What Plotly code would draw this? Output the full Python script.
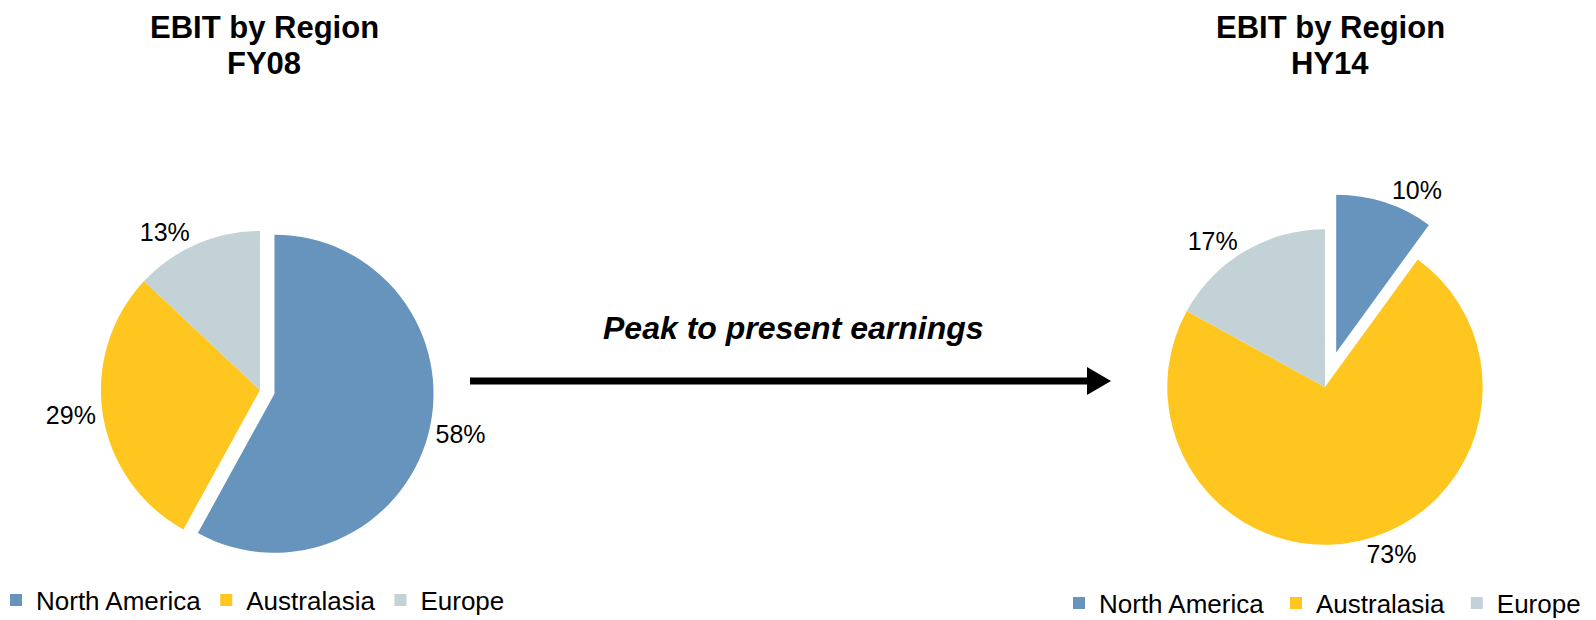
import plotly.graph_objects as go

regions = ["North America", "Australasia", "Europe"]
colors = ["#6794BD", "#FEC61E", "#C3D2D6"]
fy08_values = [58, 29, 13]
hy14_values = [10, 73, 17]
fy08_pull = [0.094, 0, 0]
hy14_pull = [0.23, 0, 0]
title_line1 = "EBIT by Region"
period_labels = ["FY08", "HY14"]
arrow_text = "Peak to present earnings"

# page has an 8px body margin; size the figure to fill the rest of the window
OFF = 8
W, H = 1596 - OFF, 620 - OFF
FONT = "Liberation Sans, Arial, sans-serif"

def px_x(x):
    return (x - OFF) / W

def px_y(y):
    return 1 - (y - OFF) / H

fig = go.Figure()

fig.add_trace(go.Pie(
    labels=regions, values=fy08_values, pull=fy08_pull,
    marker=dict(colors=colors, line=dict(width=0)),
    sort=False, direction="clockwise", rotation=0,
    textinfo="percent", texttemplate="%{percent:.0%}",
    textposition="outside", textfont=dict(size=25, color="#000000", family=FONT),
    domain=dict(x=[px_x(86), px_x(434)], y=[px_y(564), px_y(216)]),
    legend="legend", showlegend=True, hoverinfo="label+percent",
))

# trailing space keeps the second pie's legend entries distinct from the first's
fig.add_trace(go.Pie(
    labels=[r + " " for r in regions], values=hy14_values, pull=hy14_pull,
    marker=dict(colors=colors, line=dict(width=0)),
    sort=False, direction="clockwise", rotation=0,
    textinfo="percent", texttemplate="%{percent:.0%}",
    textposition="outside", textfont=dict(size=25, color="#000000", family=FONT),
    domain=dict(x=[px_x(1131), px_x(1519)], y=[px_y(581), px_y(193)]),
    legend="legend2", showlegend=True, hoverinfo="label+percent",
))

legend_common = dict(
    orientation="h", font=dict(size=26, color="#000000", family=FONT),
    bgcolor="rgba(0,0,0,0)", borderwidth=0, xanchor="left", yanchor="middle",
    traceorder="normal",
)

def title_ann(text, x, y):
    return dict(text="<b>" + text + "</b>", x=px_x(x), y=px_y(y),
                xref="paper", yref="paper", showarrow=False,
                font=dict(size=31, family=FONT, color="#000000"),
                xanchor="center", yanchor="middle", borderpad=0)

fig.update_layout(
    width=W, height=H,
    margin=dict(l=0, r=0, t=0, b=0, autoexpand=False),
    paper_bgcolor="#FFFFFF", plot_bgcolor="#FFFFFF",
    font=dict(family=FONT, color="#000000"),
    legend=dict(x=px_x(-4), y=px_y(600), **legend_common),
    legend2=dict(x=px_x(1059), y=px_y(603), **legend_common),
    annotations=[
        title_ann(title_line1, 264, 27),
        title_ann(period_labels[0], 264, 63),
        title_ann(title_line1, 1330, 27),
        title_ann(period_labels[1], 1330, 63),
        dict(text="<b><i>" + arrow_text + "</i></b>",
             x=px_x(793), y=px_y(328), xref="paper", yref="paper",
             showarrow=False, font=dict(size=32, family=FONT, color="#000000"),
             xanchor="center", yanchor="middle"),
    ],
    shapes=[
        dict(type="line", xref="paper", yref="paper",
             x0=px_x(470), x1=px_x(1090), y0=px_y(381), y1=px_y(381),
             line=dict(color="#000000", width=7)),
        dict(type="path", xref="paper", yref="paper",
             path=f"M {px_x(1087)} {px_y(367)} L {px_x(1111)} {px_y(381)} L {px_x(1087)} {px_y(395)} Z",
             fillcolor="#000000", line=dict(color="#000000", width=0)),
    ],
)

fig.write_html("out.html")
